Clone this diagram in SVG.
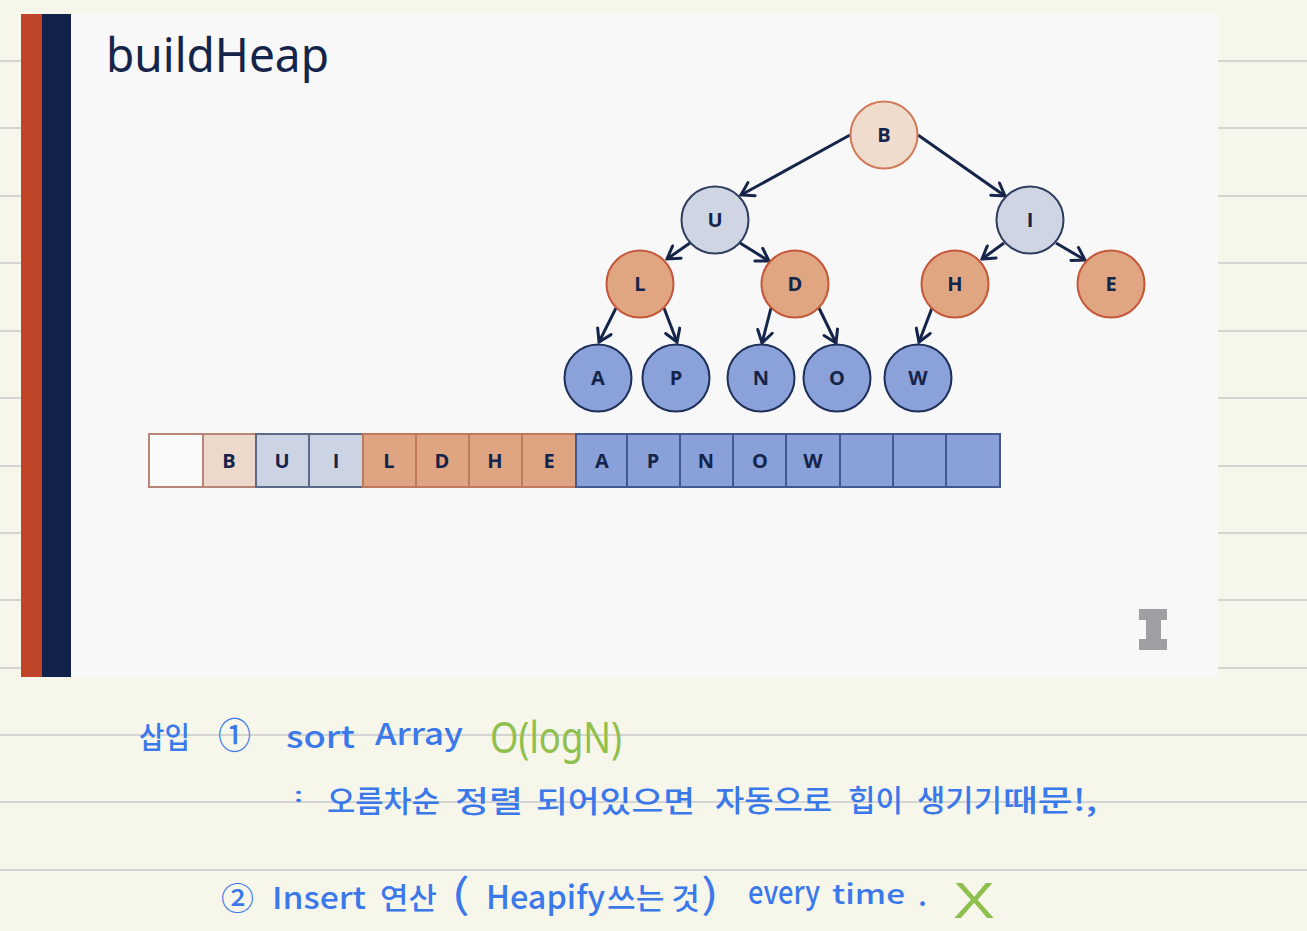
<svg xmlns="http://www.w3.org/2000/svg" width="1307" height="931" viewBox="0 0 1307 931">
<style>
.rule{stroke:#d4d4d2;stroke-width:2;fill:none}
.edge{stroke:#15244a;stroke-width:3;fill:none;marker-end:url(#arrow)}
.lab{font-family:"Open Sans","Liberation Sans",sans-serif;font-weight:700;font-size:20px;fill:#15244a;text-anchor:middle}
.n0{stroke-width:2;fill:#f0dccd;stroke:#d2795a}
.n1{stroke-width:2;fill:#cfd5e3;stroke:#2f3e5e}
.n2{stroke-width:2;fill:#e0a682;stroke:#c4573a}
.n3{stroke-width:2;fill:#8aa2d9;stroke:#1e2f5a}
.c{stroke-width:2}
.ce{fill:#fafafa;stroke:#b98576}
.c0{fill:#edd9cc;stroke:#b98576}
.c1{fill:#ccd3e2;stroke:#5a6a88}
.c2{fill:#dfa582;stroke:#bd7a5e}
.c3{fill:#8aa0d8;stroke:#43588f}
.hb{font-family:"Noto Sans CJK KR","Noto Sans",sans-serif;font-size:30px;font-weight:500;fill:#3b78ea}
.hg{font-family:"Noto Sans","Noto Sans CJK KR",sans-serif;font-size:44px;font-weight:400;fill:#8fc04e}
.big{font-size:36px}
.mid{font-size:32px}
.tall{font-size:40px;font-weight:400}
.dots{font-size:20px}
.x{font-family:"Liberation Sans",sans-serif;font-size:50px}
.sm{font-size:27px}
</style>
<defs>
<marker id="arrow" viewBox="-14 -9 16 18" refX="0" refY="0" markerUnits="userSpaceOnUse" markerWidth="16" markerHeight="18" orient="auto">
<path d="M-12 -7.500L0 0L-12 7.500" fill="none" stroke="#15244a" stroke-width="3" stroke-linecap="round"/>
</marker>
</defs>
<rect width="1307" height="931" fill="#f6f6ea"/>
<g id="rules">
<path class="rule" d="M0 61H21M0 128H21M0 196H21M0 263H21M0 331H21M0 398H21M0 466H21M0 533H21M0 600H21M0 668H21"/>
<path class="rule" d="M1218 61H1307M1218 128H1307M1218 196H1307M1218 263H1307M1218 331H1307M1218 398H1307M1218 466H1307M1218 533H1307M1218 600H1307M1218 668H1307"/>
<path class="rule" d="M0 735H1307M0 802H1307M0 870H1307"/>
</g>
<g id="slide">
<rect x="21" y="14" width="1197" height="663" fill="#f8f8f8"/>
<rect x="21" y="14" width="21" height="663" fill="#bf4528"/>
<rect x="42" y="14" width="29" height="663" fill="#13224a"/>
<text x="106" y="72" font-family="Noto Sans,Open Sans,sans-serif" font-size="48" fill="#15244a" textLength="223" lengthAdjust="spacingAndGlyphs">buildHeap</text>
<path d="M1139 609H1167V620H1161V639H1167V650H1139V639H1146V620H1139Z" fill="#a0a0a4"/>
</g>
<g id="connectors">
<path class="edge" d="M850 135L741 195"/>
<path class="edge" d="M918 135L1005 196"/>
<path class="edge" d="M690 243L667 259"/>
<path class="edge" d="M740 243L769 261"/>
<path class="edge" d="M1004 243L982 259"/>
<path class="edge" d="M1056 243L1085 260"/>
<path class="edge" d="M616 308L599 342"/>
<path class="edge" d="M664 308L677 342"/>
<path class="edge" d="M771 308L762 343"/>
<path class="edge" d="M819 308L836 343"/>
<path class="edge" d="M932 308L919 342"/>
</g>
<g id="node-B"><circle class="n0" cx="884" cy="135" r="33.500"/><text class="lab" x="884" y="142">B</text></g>
<g id="node-U"><circle class="n1" cx="715" cy="220" r="33.500"/><text class="lab" x="715" y="227">U</text></g>
<g id="node-I"><circle class="n1" cx="1030" cy="220" r="33.500"/><text class="lab" x="1030" y="227">I</text></g>
<g id="node-L"><circle class="n2" cx="640" cy="284" r="33.500"/><text class="lab" x="640" y="291">L</text></g>
<g id="node-D"><circle class="n2" cx="795" cy="284" r="33.500"/><text class="lab" x="795" y="291">D</text></g>
<g id="node-H"><circle class="n2" cx="955" cy="284" r="33.500"/><text class="lab" x="955" y="291">H</text></g>
<g id="node-E"><circle class="n2" cx="1111" cy="284" r="33.500"/><text class="lab" x="1111" y="291">E</text></g>
<g id="node-A"><circle class="n3" cx="598" cy="378" r="33.500"/><text class="lab" x="598" y="385">A</text></g>
<g id="node-P"><circle class="n3" cx="676" cy="378" r="33.500"/><text class="lab" x="676" y="385">P</text></g>
<g id="node-N"><circle class="n3" cx="761" cy="378" r="33.500"/><text class="lab" x="761" y="385">N</text></g>
<g id="node-O"><circle class="n3" cx="837" cy="378" r="33.500"/><text class="lab" x="837" y="385">O</text></g>
<g id="node-W"><circle class="n3" cx="918" cy="378" r="33.500"/><text class="lab" x="918" y="385">W</text></g>
<g id="array">
<rect class="c ce" x="149" y="434" width="54" height="53"/>
<rect class="c c0" x="203" y="434" width="53" height="53"/>
<rect class="c c1" x="256" y="434" width="53" height="53"/>
<rect class="c c1" x="309" y="434" width="54" height="53"/>
<rect class="c c2" x="363" y="434" width="53" height="53"/>
<rect class="c c2" x="416" y="434" width="53" height="53"/>
<rect class="c c2" x="469" y="434" width="53" height="53"/>
<rect class="c c2" x="522" y="434" width="54" height="53"/>
<rect class="c c3" x="576" y="434" width="51" height="53"/>
<rect class="c c3" x="627" y="434" width="53" height="53"/>
<rect class="c c3" x="680" y="434" width="53" height="53"/>
<rect class="c c3" x="733" y="434" width="53" height="53"/>
<rect class="c c3" x="786" y="434" width="54" height="53"/>
<rect class="c c3" x="840" y="434" width="53" height="53"/>
<rect class="c c3" x="893" y="434" width="53" height="53"/>
<rect class="c c3" x="946" y="434" width="54" height="53"/>
<text class="lab" x="229" y="468">B</text>
<text class="lab" x="282" y="468">U</text>
<text class="lab" x="336" y="468">I</text>
<text class="lab" x="389" y="468">L</text>
<text class="lab" x="442" y="468">D</text>
<text class="lab" x="495" y="468">H</text>
<text class="lab" x="549" y="468">E</text>
<text class="lab" x="602" y="468">A</text>
<text class="lab" x="653" y="468">P</text>
<text class="lab" x="706" y="468">N</text>
<text class="lab" x="760" y="468">O</text>
<text class="lab" x="813" y="468">W</text>
</g>
<g id="notes">
<text class="hb" x="139" y="748" textLength="51" lengthAdjust="spacingAndGlyphs">삽입</text>
<text class="hb big" x="218" y="749" textLength="33" lengthAdjust="spacingAndGlyphs">①</text>
<text class="hb" x="286" y="748" textLength="69" lengthAdjust="spacingAndGlyphs">sort</text>
<text class="hb" x="375" y="745" textLength="88" lengthAdjust="spacingAndGlyphs">Array</text>
<text class="hg" x="490" y="753" textLength="132" lengthAdjust="spacingAndGlyphs">O(logN)</text>
<text class="hb dots" x="294" y="802" textLength="9" lengthAdjust="spacingAndGlyphs">:</text>
<text class="hb" x="327" y="812" textLength="113" lengthAdjust="spacingAndGlyphs">오름차순</text>
<text class="hb" x="455" y="812" textLength="68" lengthAdjust="spacingAndGlyphs">정렬</text>
<text class="hb" x="536" y="812" textLength="159" lengthAdjust="spacingAndGlyphs">되어있으면</text>
<text class="hb" x="715" y="811" textLength="117" lengthAdjust="spacingAndGlyphs">자동으로</text>
<text class="hb" x="848" y="811" textLength="55" lengthAdjust="spacingAndGlyphs">힙이</text>
<text class="hb" x="917" y="811" textLength="85" lengthAdjust="spacingAndGlyphs">생기기</text>
<text class="hb" x="1003" y="811" textLength="94" lengthAdjust="spacingAndGlyphs">때문!,</text>
<text class="hb mid" x="221" y="910" textLength="33" lengthAdjust="spacingAndGlyphs">②</text>
<text class="hb" x="272" y="909" textLength="94" lengthAdjust="spacingAndGlyphs">Insert</text>
<text class="hb" x="380" y="909" textLength="57" lengthAdjust="spacingAndGlyphs">연산</text>
<text class="hb tall" x="451" y="908" textLength="19" lengthAdjust="spacingAndGlyphs">(</text>
<text class="hb mid" x="486" y="909" textLength="119" lengthAdjust="spacingAndGlyphs">Heapify</text>
<text class="hb" x="607" y="909" textLength="93" lengthAdjust="spacingAndGlyphs">쓰는 것</text>
<text class="hb tall" x="701" y="908" textLength="18" lengthAdjust="spacingAndGlyphs">)</text>
<text class="hb mid" x="748" y="904" textLength="72" lengthAdjust="spacingAndGlyphs">every</text>
<text class="hb sm" x="832" y="904" textLength="73" lengthAdjust="spacingAndGlyphs">time</text>
<text class="hb" x="918" y="906">.</text>
<text class="hg x" x="953" y="918" textLength="42" lengthAdjust="spacingAndGlyphs">X</text>
</g>
</svg>
